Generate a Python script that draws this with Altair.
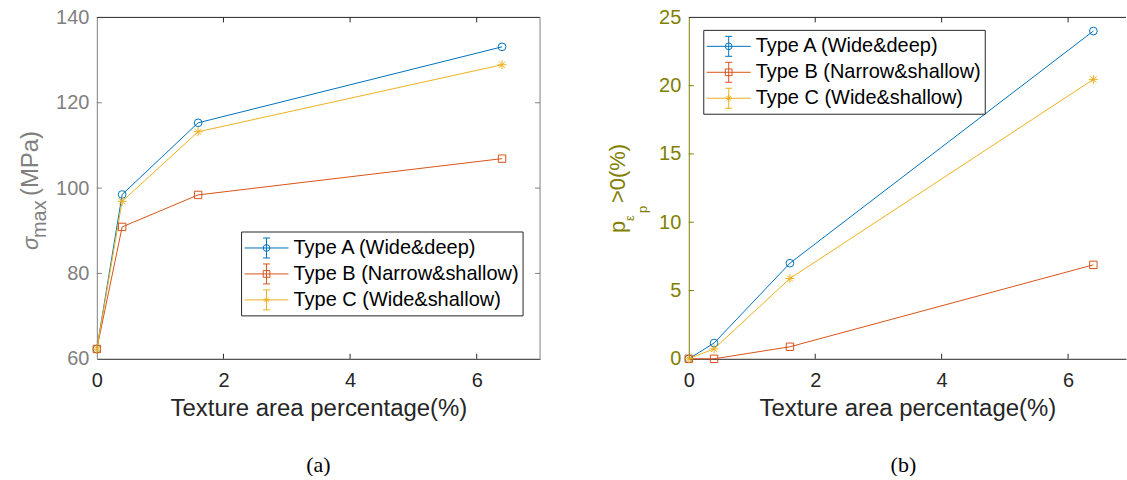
import altair as alt
import pandas as pd

# ---- data -------------------------------------------------------------
area_pct = [0, 0.4, 1.6, 6.4]
types = ["Type A (Wide&deep)", "Type B (Narrow&shallow)", "Type C (Wide&shallow)"]

sigma_a = [62.3, 98.5, 115.3, 133.1]
sigma_b = [62.3, 90.9, 98.4, 106.9]
sigma_c = [62.3, 96.9, 113.2, 128.9]

plastic_a = [0.0, 1.15, 7.0, 24.0]
plastic_b = [0.0, 0.0, 0.88, 6.88]
plastic_c = [0.0, 0.73, 5.88, 20.46]

x_ticks = [0, 2, 4, 6]
sigma_ticks = [60, 80, 100, 120, 140]
plastic_ticks = [0, 5, 10, 15, 20, 25]

# ---- styling ----------------------------------------------------------
colors = ["#0072BD", "#D95319", "#EDB120"]
dark = "#262626"
gray = "#808080"
olive = "#808000"
sans = "Liberation Sans"
serif = "Liberation Serif"
H = 342
TICK = 5

asterisk = "M-1,0H1M0,-1V1M-0.7,-0.7L0.7,0.7M-0.7,0.7L0.7,-0.7"
marker_shapes = ["circle", "square", asterisk]
marker_sizes = [60, 55, 80]

one_row = alt.Data(values=[{}])


def text_piece(s, x, y, size, color, angle=270, align="left", font=sans,
               style="normal", baseline="alphabetic"):
    return alt.Chart(one_row).mark_text(
        angle=angle, align=align, baseline=baseline, font=font,
        fontSize=size, color=color, fontStyle=style,
    ).encode(x=alt.value(x), y=alt.value(y), text=alt.value(s))


def seg(x1, y1, x2, y2, color):
    return alt.Chart(one_row).mark_rule(color=color, strokeWidth=1).encode(
        x=alt.value(x1), x2=alt.value(x2), y=alt.value(y1), y2=alt.value(y2))


def legend_box(lx, ly):
    """Boxed key: line + error bar + marker, then the series name."""
    row_h, pad, sym_w = 26, 3, 44
    layers = [
        alt.Chart(one_row).mark_rect(fill="white", stroke=dark, strokeWidth=1).encode(
            x=alt.value(lx), x2=alt.value(lx + 282),
            y=alt.value(ly), y2=alt.value(ly + 2 * pad + 3 * row_h))
    ]
    for i, (t, c, shp) in enumerate(zip(types, colors, marker_shapes)):
        yc = ly + pad + row_h / 2 + i * row_h
        xc = lx + pad + sym_w / 2
        layers += [
            seg(lx + pad, yc, lx + pad + sym_w, yc, c),
            seg(xc, yc - 10, xc, yc + 10, c),
            seg(xc - 3.5, yc - 10, xc + 3.5, yc - 10, c),
            seg(xc - 3.5, yc + 10, xc + 3.5, yc + 10, c),
            alt.Chart(one_row).mark_point(shape=shp, size=45, filled=False,
                                          strokeWidth=1, color=c, opacity=1)
            .encode(x=alt.value(xc), y=alt.value(yc)),
            text_piece(t, lx + pad + sym_w + 5, yc, 20, "black", angle=0,
                       baseline="middle"),
        ]
    return layers


def panel(series, y_domain, y_ticks, y_color, width, x_max, legend_xy,
          title_parts, caption, caption_x, right_frame):
    rows = []
    for t, vals in zip(types, series):
        for p, v in zip(area_pct, vals):
            rows.append({"pct": p, "val": v, "type": t})
    df = pd.DataFrame(rows)

    x_scale = alt.Scale(domain=[0, x_max], nice=False, zero=False)
    y_scale = alt.Scale(domain=y_domain, nice=False, zero=False)
    c_scale = alt.Scale(domain=types, range=colors)

    x_axis = alt.Axis(
        values=x_ticks, format="d", tickSize=0, labelPadding=12,
        labelFontSize=20, labelFont=sans, labelColor=dark, labelFlush=False,
        labelOverlap=False, domainColor=dark, domainWidth=1, grid=False,
        title="Texture area percentage(%)", titleFont=sans, titleFontSize=24,
        titleFontWeight="normal", titleColor=dark, titlePadding=6,
    )
    y_axis = alt.Axis(
        values=y_ticks, format="d", tickSize=0, labelPadding=8,
        labelFontSize=20, labelFont=sans, labelColor=y_color, labelFlush=False,
        labelOverlap=False, domainColor=y_color, domainWidth=1, grid=False,
        title="",
    )

    base = alt.Chart(df)
    lines = base.mark_line(strokeWidth=1).encode(
        x=alt.X("pct:Q", scale=x_scale, axis=x_axis),
        y=alt.Y("val:Q", scale=y_scale, axis=y_axis),
        color=alt.Color("type:N", scale=c_scale, legend=None),
        detail="type:N",
    )

    layers = [lines]
    for t, shp, sz in zip(types, marker_shapes, marker_sizes):
        layers.append(
            base.transform_filter(alt.datum.type == t)
            .mark_point(shape=shp, size=sz, filled=False, strokeWidth=1, opacity=1)
            .encode(
                x=alt.X("pct:Q", scale=x_scale, axis=x_axis),
                y=alt.Y("val:Q", scale=y_scale, axis=y_axis),
                color=alt.Color("type:N", scale=c_scale, legend=None),
            )
        )

    # frame: top edge (and right edge when the box is closed)
    layers.append(seg(0, 0, width, 0, dark))
    if right_frame:
        layers.append(seg(width, 0, width, H, y_color))

    # inward tick marks
    xt = alt.Chart(alt.Data(values=[{"v": v} for v in x_ticks[1:]]))
    layers.append(xt.mark_rule(color=dark, strokeWidth=1).encode(
        x=alt.X("v:Q", scale=x_scale, axis=x_axis), y=alt.value(H), y2=alt.value(H - TICK)))
    layers.append(xt.mark_rule(color=dark, strokeWidth=1).encode(
        x=alt.X("v:Q", scale=x_scale, axis=x_axis), y=alt.value(0), y2=alt.value(TICK)))
    yt = alt.Chart(alt.Data(values=[{"v": v} for v in y_ticks[1:-1]]))
    layers.append(yt.mark_rule(color=y_color, strokeWidth=1).encode(
        y=alt.Y("v:Q", scale=y_scale, axis=y_axis), x=alt.value(0), x2=alt.value(TICK)))
    if right_frame:
        layers.append(yt.mark_rule(color=y_color, strokeWidth=1).encode(
            y=alt.Y("v:Q", scale=y_scale, axis=y_axis), x=alt.value(width),
            x2=alt.value(width - TICK)))

    layers += legend_box(*legend_xy)

    # y-axis title built from sub/superscript pieces
    for s, x, y, size, style in title_parts:
        layers.append(text_piece(s, x, y, size, y_color, style=style))

    layers.append(text_piece(caption, caption_x, 455, 22, "black", angle=0,
                             align="center", font=serif))

    return alt.layer(*layers).properties(width=width, height=H)


left = panel(
    [sigma_a, sigma_b, sigma_c], [60, 140], sigma_ticks, gray, 444, 7,
    (145, 215),
    [("σ", -59, 233, 22, "italic"),
     ("max", -51, 221, 20, "normal"),
     ("(MPa)", -59, 179, 24, "normal")],
    "(a)", 222, True,
)

right = panel(
    [plastic_a, plastic_b, plastic_c], [0, 25], plastic_ticks, olive, 438, 438 / 63.33,
    (15, 13),
    [("p", -64, 216, 22, "normal"),
     ("ε", -55, 204, 13, "normal"),
     ("p", -42, 196, 13, "normal"),
     (">0(%)", -64, 186, 22, "normal")],
    "(b)", 215, False,
)

chart = (
    alt.hconcat(left, right, spacing=66)
    .resolve_scale(x="independent", y="independent", color="independent")
    .properties(padding={"left": 19, "top": 7, "right": 0, "bottom": 0},
                background="white")
    .configure_view(stroke=None)
)

chart.save("out.html", embed_options={"renderer": "svg", "actions": False})
